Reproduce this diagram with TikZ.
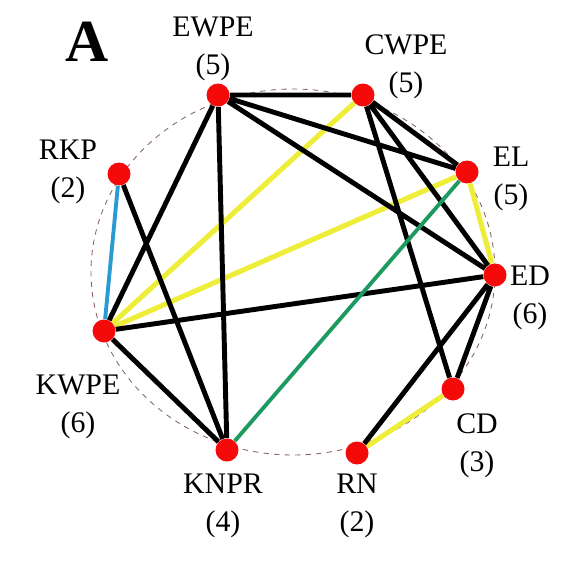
\documentclass[tikz,border=0pt]{standalone}
\usepackage{fontspec}
\setmainfont{Liberation Serif}
\usetikzlibrary{positioning}
\definecolor{dotred}{HTML}{F50A0A}
\definecolor{linkyellow}{HTML}{EEEE3A}
\definecolor{linkblue}{HTML}{2A9AD2}
\definecolor{linkgreen}{HTML}{1C9A60}
\definecolor{ringgrey}{HTML}{8A6464}

\begin{document}
\begin{tikzpicture}[x=0.02cm,y=-0.02cm,font=\fontsize{17}{21.5}\selectfont,
    site/.style={circle,fill=dotred,inner sep=0pt,minimum size=0.46cm},
    tag/.style={align=center,inner sep=0pt},
    strong/.style={line width=2.8pt,black},
    weak/.style={line width=2.9pt,linkyellow},
    thin/.style={line width=2.2pt}]
  \useasboundingbox (0,0) rectangle (580,564);
  \draw[ringgrey,dashed,line width=0.5pt] (293,272) ellipse [x radius=202,y radius=183];

  % sites on the ring
  \node[site] (ewpe) at (218,95) {};
  \node[site] (cwpe) at (363,95) {};
  \node[site] (el)   at (467,172) {};
  \node[site] (ed)   at (495,275) {};
  \node[site] (cd)   at (453,389) {};
  \node[site] (rn)   at (357,453) {};
  \node[site] (knpr) at (227,450) {};
  \node[site] (kwpe) at (104,331) {};
  \node[site] (rkp)  at (119,174) {};

  \node[tag] (ewpetag) at (213,49)  {EWPE\\(5)};
  \node[tag] (cwpetag) at (406,67)  {CWPE\\(5)};
  \node[tag] (eltag)   at (511,179) {EL\\(5)};
  \node[tag] (edtag)   at (530,298) {ED\\(6)};
  \node[tag] (cdtag)   at (477,446) {CD\\(3)};
  \node[tag] (rntag)   at (357,506) {RN\\(2)};
  \node[tag] (knprtag) at (223,506) {KNPR\\(4)};
  \node[tag] (kwpetag) at (78,407)  {KWPE\\(6)};
  \node[tag] (rkptag)  at (68,172)  {RKP\\(2)};
  \node (panel) at (87,42) {\fontsize{34}{34}\selectfont\bfseries A};

  \draw[weak] (cwpe) -- (kwpe) (el) -- (kwpe) (el) -- (ed) (cd) -- (rn);
  \draw[strong] (ewpe) -- (cwpe) (ewpe) -- (el) (ewpe) -- (ed)
    (ewpe) -- (kwpe) (ewpe) -- (knpr) (cwpe) -- (el) (cwpe) -- (ed)
    (cwpe) -- (cd) (ed) -- (kwpe) (ed) -- (cd) (ed) -- (rn)
    (rkp) -- (knpr) (kwpe) -- (knpr);
  \draw[thin,linkgreen] (el) -- (knpr);
  \draw[thin,linkblue] (rkp) -- (kwpe);
\end{tikzpicture}
\end{document}
